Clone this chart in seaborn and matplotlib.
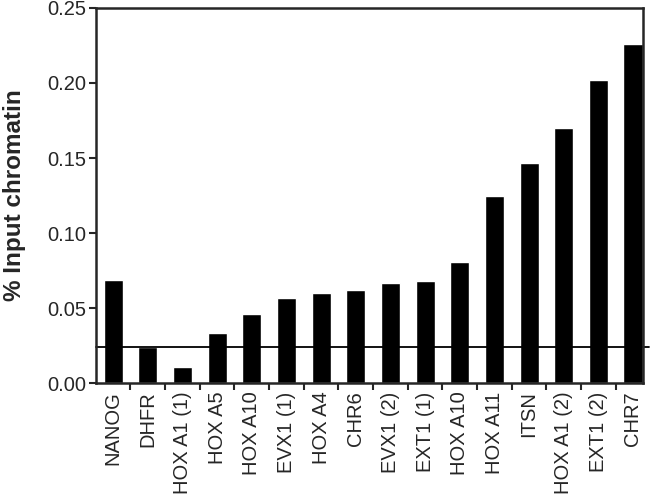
import matplotlib
matplotlib.use("Agg")
import matplotlib.pyplot as plt
import seaborn as sns
import pandas as pd

# regions and their enrichment
regions = ["NANOG", "DHFR", "HOX A1 (1)", "HOX A5", "HOX A10", "EVX1 (1)", "HOX A4",
           "CHR6", "EVX1 (2)", "EXT1 (1)", "HOX A10", "HOX A11", "ITSN", "HOX A1 (2)",
           "EXT1 (2)", "CHR7"]
input_pct = [0.069, 0.024, 0.011, 0.0335, 0.046, 0.057, 0.060, 0.062, 0.067, 0.068,
             0.081, 0.125, 0.147, 0.170, 0.202, 0.226]
background = 0.024

sns.set_style("ticks")
plt.rcParams['font.family'] = ['Liberation Sans', 'DejaVu Sans']

df = pd.DataFrame({"pos": range(len(regions)), "value": input_pct})

fig = plt.figure(figsize=(6.52, 4.95), dpi=100)
ax = fig.add_axes([0.147, 0.226, 0.839, 0.758])
sns.barplot(data=df, x="pos", y="value", color="black", width=0.55,
            saturation=1, ax=ax, native_scale=True)

ax.axhline(background, color="black", lw=1.3, xmax=1.012, clip_on=False)

ax.set_xlim(-0.5, len(regions) - 1 + 0.285)
ax.set_ylim(0, 0.25)
ax.set_yticks([0, 0.05, 0.10, 0.15, 0.20, 0.25])
ax.set_yticklabels(["0.00", "0.05", "0.10", "0.15", "0.20", "0.25"], fontsize=14.5)
ax.set_xticks(range(len(regions)))
ax.set_xticklabels(regions, rotation=90, fontsize=14.5)
ax.set_xticks([i + 0.5 for i in range(len(regions) - 1)], minor=True)
ax.tick_params(axis="x", which="major", length=0, pad=6)
ax.tick_params(axis="x", which="minor", length=5, width=1.5)
ax.tick_params(axis="y", length=5, width=1.5, pad=2)
ax.set_xlabel("")
ax.set_ylabel("% Input chromatin", fontsize=17.5, fontweight="bold", labelpad=15)
for s in ax.spines.values():
    s.set_linewidth(1.8)

fig.savefig("out.png", dpi=100)
